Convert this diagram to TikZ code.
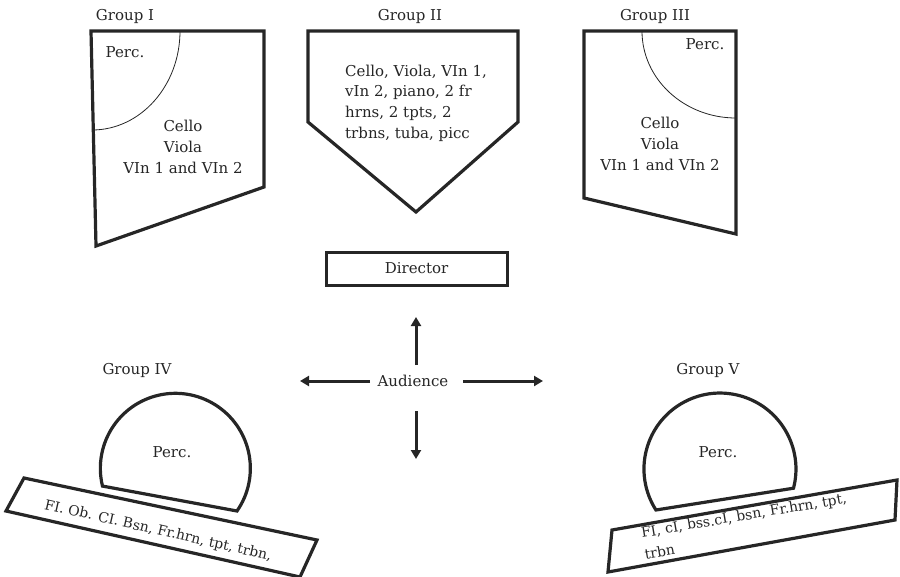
\documentclass[tikz,border=0pt]{standalone}
\usepackage{fontspec}
\setmainfont{DejaVu Serif}
\usetikzlibrary{arrows.meta}
\definecolor{ink}{gray}{0.15}
\begin{document}
\begin{tikzpicture}[x=1pt,y=-1pt,
  blk/.style={draw=ink, line width=3.2pt, line join=miter},
  thinarc/.style={draw=ink, line width=0.8pt},
  lbl/.style={font=\fontsize{15}{20.7}\selectfont, text=ink, inner sep=0pt},
  small/.style={font=\fontsize{14}{22}\selectfont, text=ink, inner sep=0pt},
  arr/.style={draw=ink, line width=3pt, -{Triangle[length=9pt,width=10pt]}}]
\useasboundingbox (0,0) rectangle (900,576);

% Group I
\draw[blk] (91,31) -- (264,31) -- (264,187) -- (96,246) -- cycle;
\draw[thinarc] (180,31) arc[start angle=0, end angle=90, x radius=88, y radius=99];
\node[lbl] (g1) at (125,16) {Group I};
\node[lbl] (p1) at (125,52) {Perc.};
\node[lbl, align=center] (s1) at (183,147) {Cello\\Viola\\VIn 1 and VIn 2};

% Group II
\draw[blk] (308,31) -- (518,31) -- (518,122) -- (416,212) -- (308,122) -- cycle;
\node[lbl] (g2) at (410,16) {Group II};
\node[lbl, align=left, anchor=north west] (s2) at (345,64.5)
  {Cello, Viola, VIn 1,\\vIn 2, piano, 2 fr\\hrns, 2 tpts, 2\\trbns, tuba, picc};

% Group III
\draw[blk] (584,31) -- (736,31) -- (736,234) -- (584,198) -- cycle;
\draw[thinarc] (642,31) arc[start angle=180, end angle=90, x radius=94, y radius=87];
\node[lbl] (g3) at (655,16) {Group III};
\node[lbl] (p3) at (705,44) {Perc.};
\node[lbl, align=center] (s3) at (660,144) {Cello\\Viola\\VIn 1 and VIn 2};

% Director and audience
\node[lbl, draw=ink, line width=3pt, minimum width=181pt, minimum height=33pt] (dir) at (416.5,268.5) {Director};
\node[lbl] (aud) at (413,381) {Audience};
\coordinate (aU) at (416,365);
\coordinate (tU) at (416,317);
\coordinate (aD) at (416,411);
\coordinate (tD) at (416,459);
\coordinate (aL) at (370,381);
\coordinate (tL) at (300,381);
\coordinate (aR) at (463,381);
\coordinate (tR) at (543,381);
\draw[arr] (aU) -- (tU);
\draw[arr] (aD) -- (tD);
\draw[arr] (aL) -- (tL);
\draw[arr] (aR) -- (tR);

% Group IV
\node[lbl] (g4) at (137,370) {Group IV};
\draw[blk] (237,511) arc[start angle=34.7, end angle=-193.7, radius=75] -- cycle;
\node[lbl] (p4) at (172,452) {Perc.};
\draw[blk] (24,478) -- (317,540) -- (300,577) -- (6,511) -- cycle;
\node[small, rotate=-12.8] (t4) at (158,531) {FI. Ob. CI. Bsn, Fr.hrn, tpt, trbn,};

% Group V
\node[lbl] (g5) at (708,370) {Group V};
\draw[blk] (793.5,488.2) arc[start angle=14.6, end angle=-212.6, radius=76] -- cycle;
\node[lbl] (p5) at (718,452) {Perc.};
\draw[blk] (612,530) -- (897,480) -- (895,520) -- (608,572) -- cycle;
\node[small, align=left, anchor=north west, rotate=9.6] (t5) at (640,527)
  {FI, cI, bss.cI, bsn, Fr.hrn, tpt,\\trbn};
\end{tikzpicture}
\end{document}
